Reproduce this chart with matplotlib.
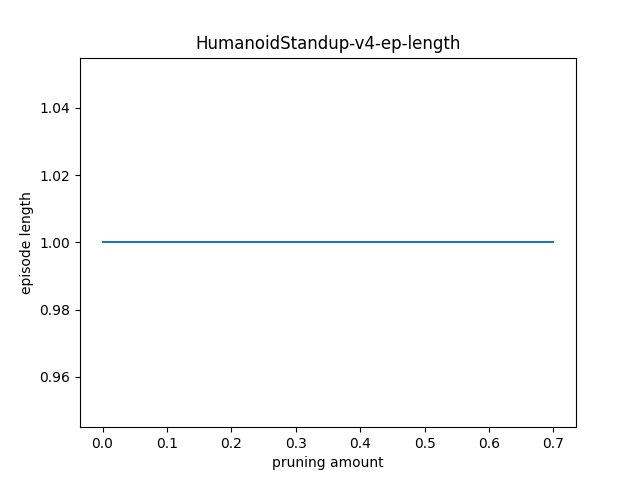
import matplotlib
matplotlib.use("Agg")
import matplotlib.pyplot as plt

# pruning amounts and the (normalised) episode length at each
pruning_amounts = [0.0, 0.1, 0.2, 0.3, 0.4, 0.5, 0.6, 0.7]
episode_lengths = [1.0, 1.0, 1.0, 1.0, 1.0, 1.0, 1.0, 1.0]

fig, ax = plt.subplots(figsize=(6.4, 4.8), dpi=100)
ax.plot(pruning_amounts, episode_lengths)
ax.set_title("HumanoidStandup-v4-ep-length")
ax.set_xlabel("pruning amount")
ax.set_ylabel("episode length")

plt.savefig("out.png", dpi=100)
plt.close()
